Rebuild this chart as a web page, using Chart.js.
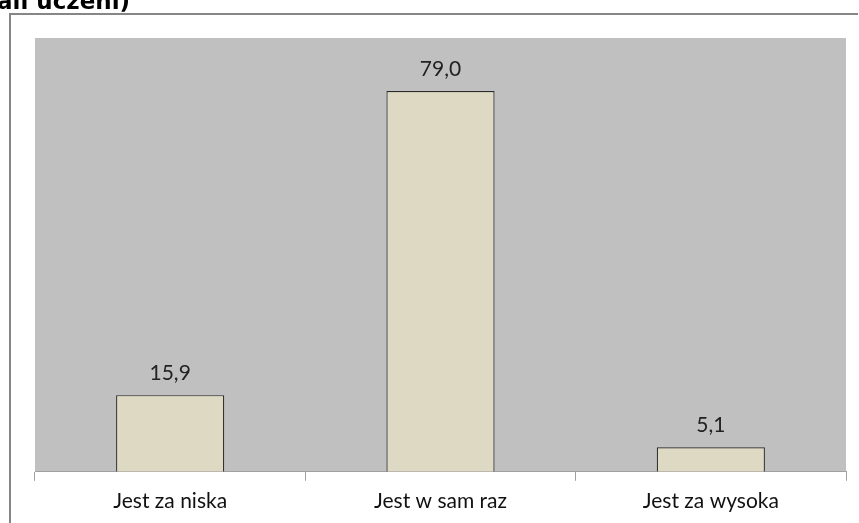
<!DOCTYPE html>
<html>
<head>
<meta charset="utf-8">
<script src="https://cdn.jsdelivr.net/npm/chart.js@4"></script>
<style>
html,body{margin:0;padding:0;background:#fff;}
#wrap{width:859px;height:523px;position:relative;}
</style>
</head>
<body>
<div id="wrap"><canvas id="c" width="859" height="523"></canvas></div>
<script>
const categories = ["Jest za niska", "Jest w sam raz", "Jest za wysoka"];
const values = [15.9, 79.0, 5.1];
const titleText = "ali uczeni)";

const framePlugin = {
  id: 'frame',
  beforeDraw(chart) {
    const ctx = chart.ctx, a = chart.chartArea;
    ctx.save();
    ctx.fillStyle = '#ffffff';
    ctx.fillRect(0, 0, chart.width, chart.height);
    ctx.fillStyle = '#C0C0C0';
    ctx.fillRect(a.left, a.top, a.right - a.left, a.bottom - a.top);
    ctx.strokeStyle = '#868686';
    ctx.lineWidth = 2;
    ctx.beginPath();
    ctx.moveTo(10, 530);
    ctx.lineTo(10, 14);
    ctx.lineTo(858, 14);
    ctx.stroke();
    ctx.fillStyle = '#000';
    ctx.font = 'bold 23px "DejaVu Sans"';
    ctx.textBaseline = 'alphabetic';
    ctx.fillText(titleText, -3, 9);
    ctx.restore();
  },
  afterDatasetsDraw(chart) {
    const ctx = chart.ctx;
    const meta = chart.getDatasetMeta(0);
    ctx.save();
    ctx.fillStyle = '#222';
    ctx.font = '21px Lato';
    ctx.textAlign = 'center';
    ctx.textBaseline = 'middle';
    meta.data.forEach((bar, i) => {
      ctx.fillText(values[i].toFixed(1).replace('.', ','), bar.x, bar.y - 22);
    });
    ctx.restore();
  }
};

new Chart(document.getElementById('c'), {
  type: 'bar',
  data: {
    labels: categories,
    datasets: [{
      data: values,
      backgroundColor: '#DDD9C3',
      borderColor: '#2a2a2a',
      borderWidth: 1.2,
      barPercentage: 0.4,
      categoryPercentage: 1.0
    }]
  },
  options: {
    responsive: false,
    animation: false,
    layout: { padding: { left: 35, right: 13, top: 38, bottom: 1 } },
    plugins: { legend: { display: false }, tooltip: { enabled: false } },
    scales: {
      y: { display: false, min: 0, max: 90 },
      x: {
        offset: true,
        border: { display: true, color: '#A0A0A0', width: 1 },
        grid: { offset: true, drawOnChartArea: false, drawTicks: true, tickLength: 9, color: '#A0A0A0' },
        ticks: { color: '#111', font: { family: 'Lato', size: 21 }, padding: 8, maxRotation: 0 }
      }
    }
  },
  plugins: [framePlugin]
});
</script>
</body>
</html>
